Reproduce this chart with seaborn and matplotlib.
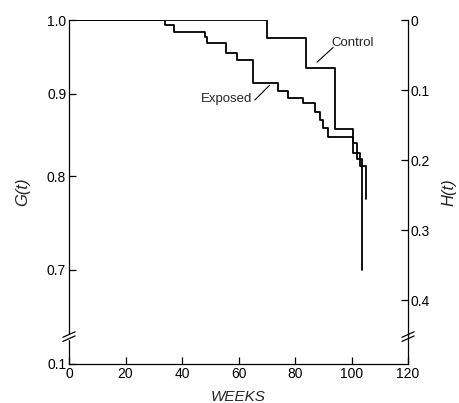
import numpy as np
import pandas as pd
import matplotlib
matplotlib.use("Agg")
import matplotlib.pyplot as plt
from matplotlib.ticker import FixedLocator, FixedFormatter, NullLocator
import seaborn as sns

# ---- data ----
control_weeks = [0, 70, 84, 94, 100.5, 103, 105]
control_G = [1.0, 0.975, 0.934, 0.856, 0.827, 0.812, 0.775]

exposed_weeks = [0, 34, 37, 48, 49, 55.5, 59.5, 65, 74, 77.5, 83, 87, 89, 90,
                 91.5, 100.5, 102, 103.7]
exposed_G = [1.0, 0.993, 0.983, 0.976, 0.968, 0.954, 0.945, 0.914, 0.904,
             0.895, 0.889, 0.877, 0.867, 0.857, 0.846, 0.839, 0.82, 0.70]

x_ticks = [0, 20, 40, 60, 80, 100, 120]
g_ticks = [1.0, 0.9, 0.8, 0.7]
g_labels = ["1.0", "0.9", "0.8", "0.7"]
h_ticks = [0, 0.1, 0.2, 0.3, 0.4]
h_labels = ["0", "0.1", "0.2", "0.3", "0.4"]
h_max = 0.491           # bottom of the (broken) axis in H units
h_break = 0.452
bottom_label = "0.1"

sns.set_theme(style="ticks")
plt.rcParams['font.family'] = ['Liberation Sans', 'DejaVu Sans']

fig = plt.figure(figsize=(4.6, 4.03), dpi=100)
ax = fig.add_axes([0.150, 0.097, 0.737, 0.853])

df_c = pd.DataFrame({"weeks": control_weeks, "G": control_G})
df_e = pd.DataFrame({"weeks": exposed_weeks, "G": exposed_G})
sns.lineplot(data=df_c, x="weeks", y="G", ax=ax, color="black", lw=1.3,
             drawstyle="steps-post", estimator=None, sort=False)
sns.lineplot(data=df_e, x="weeks", y="G", ax=ax, color="black", lw=1.3,
             drawstyle="steps-post", estimator=None, sort=False)

g_low = np.exp(-h_max)
ax.set_yscale("log")
ax.set_ylim(g_low, 1.0)
ax.set_xlim(0, 120)
ax.yaxis.set_major_locator(FixedLocator(g_ticks + [g_low]))
ax.yaxis.set_major_formatter(FixedFormatter(g_labels + [bottom_label]))
ax.yaxis.set_minor_locator(NullLocator())
ax.set_xticks(x_ticks)
ax.set_xticklabels([str(t) for t in x_ticks])

ax2 = ax.twinx()
ax2.set_ylim(h_max, 0)
ax2.set_yticks(h_ticks)
ax2.set_yticklabels(h_labels)

for a in (ax, ax2):
    for s in a.spines.values():
        s.set_linewidth(0.9)
        s.set_color("black")
    a.spines["top"].set_visible(False)
    a.tick_params(direction="in", length=5, width=0.9, labelsize=10,
                  colors="black", pad=2)
ax2.spines["left"].set_visible(False)
ax2.spines["bottom"].set_visible(False)
ax.spines["right"].set_visible(False)

ax.set_xlabel("WEEKS", fontsize=11, style="italic", labelpad=7)
ax.set_ylabel("G(t)", fontsize=12, style="italic", labelpad=12)
ax2.set_ylabel("H(t)", fontsize=12, style="italic", rotation=90, labelpad=8)

# curve labels with leader lines
ax.text(100.5, np.exp(-0.033), "Control", fontsize=9.5, ha="center", va="center")
ax.plot([87.8, 93.5], [np.exp(-0.06), np.exp(-0.039)], color="black", lw=0.8)
ax.text(55.6, np.exp(-0.113), "Exposed", fontsize=9.5, ha="center", va="center")
ax.plot([65.8, 71], [np.exp(-0.114), np.exp(-0.093)], color="black", lw=0.8)

# axis break marks
yb = 1 - h_break / h_max
for xs in (0.0, 1.0):
    ax.add_patch(plt.Rectangle((xs - 0.01, yb - 0.006), 0.02, 0.012,
                               transform=ax.transAxes, color="white",
                               clip_on=False, zorder=5))
    for dy in (-0.006, 0.006):
        ax.plot([xs - 0.018, xs + 0.018], [yb + dy - 0.008, yb + dy + 0.008],
                transform=ax.transAxes, color="black", lw=0.9,
                clip_on=False, zorder=6)

fig.savefig("out.png", dpi=100)
